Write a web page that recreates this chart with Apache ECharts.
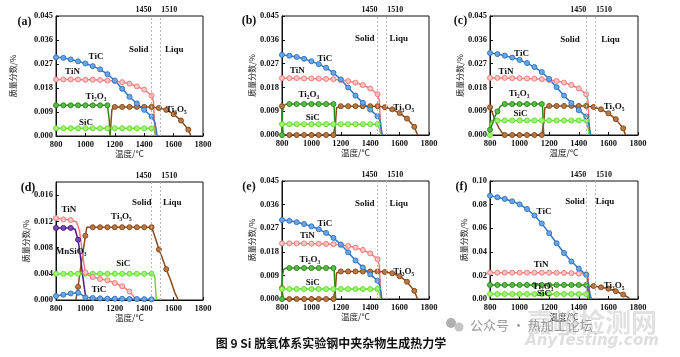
<!DOCTYPE html>
<html><head><meta charset="utf-8">
<script src="https://cdn.jsdelivr.net/npm/echarts@6/dist/echarts.min.js"></script>
<style>html,body{margin:0;padding:0;background:#fff}#c{width:680px;height:357px}</style>
</head><body><div id="c"></div>
<script>
// ---------- data ----------
const xTicks = [800, 1000, 1200, 1400, 1600, 1800];
const solidT = 1450, liquT = 1510;

// (a)
const a_TiC = [[800,0.0295],[850,0.0293],[900,0.0287],[950,0.028],[1000,0.0272],[1050,0.0262],[1100,0.025],[1150,0.0232],[1200,0.0208],[1250,0.0177],[1300,0.0147],[1350,0.0122],[1400,0.0098],[1450,0.0073],[1470,0.0055],[1480,0.003],[1488,0]];
const a_TiN = [[800,0.0212],[850,0.0212],[900,0.0212],[950,0.0212],[1000,0.0211],[1050,0.0211],[1100,0.021],[1150,0.0208],[1200,0.0206],[1250,0.0202],[1300,0.0196],[1350,0.0186],[1400,0.0174],[1450,0.0152],[1463,0.013],[1470,0.005],[1477,0]];
const a_Ti2O3 = [[800,0.0115],[850,0.0115],[900,0.0115],[950,0.0115],[1000,0.0115],[1050,0.0115],[1100,0.0115],[1150,0.0115],[1157,0.0112],[1162,0.006],[1167,0.001],[1170,0]];
const a_SiC = [[800,0.0029],[850,0.0029],[900,0.0029],[950,0.0029],[1000,0.0029],[1050,0.0029],[1100,0.0029],[1150,0.0029],[1200,0.0029],[1250,0.0029],[1300,0.0029],[1350,0.0029],[1400,0.0029],[1450,0.0029],[1468,0.0028],[1473,0.001],[1478,0]];
const a_Ti3O5 = [[1168,0],[1174,0.005],[1180,0.0098],[1188,0.0108],[1200,0.0109],[1250,0.0109],[1300,0.0109],[1350,0.0109],[1400,0.0109],[1450,0.0109],[1500,0.0105],[1550,0.0098],[1600,0.0082],[1650,0.0058],[1700,0.0024],[1718,0]];

// (b)
const b_TiC = [[800,0.0303],[850,0.03],[900,0.0295],[950,0.0288],[1000,0.0279],[1050,0.0268],[1100,0.0254],[1150,0.0235],[1200,0.021],[1250,0.018],[1300,0.0149],[1350,0.0122],[1400,0.0096],[1450,0.0071],[1468,0.0052],[1476,0.002],[1482,0]];
const b_TiN = [[800,0.0215],[850,0.0215],[900,0.0215],[950,0.0214],[1000,0.0214],[1050,0.0213],[1100,0.0212],[1150,0.0211],[1200,0.0208],[1250,0.0204],[1300,0.0198],[1350,0.0189],[1400,0.0176],[1450,0.0154],[1462,0.013],[1469,0.005],[1476,0]];
const b_Ti2O3 = [[800,0],[803,0.0085],[810,0.011],[825,0.0116],[850,0.0117],[900,0.0117],[950,0.0117],[1000,0.0117],[1050,0.0117],[1100,0.0117],[1150,0.0117],[1155,0.0105],[1159,0.005],[1163,0]];
const b_SiC = [[800,0.0041],[850,0.0041],[900,0.0041],[950,0.0041],[1000,0.0041],[1050,0.0041],[1100,0.0041],[1150,0.0041],[1200,0.0041],[1250,0.0041],[1300,0.0041],[1350,0.0041],[1400,0.0041],[1450,0.0041],[1460,0.0041],[1466,0.002],[1471,0]];
const b_Ti3O5 = [[800,0.0109],[803,0.004],[808,0],[850,0],[900,0],[950,0],[1000,0],[1050,0],[1100,0],[1150,0],[1160,0],[1165,0.005],[1171,0.0102],[1180,0.0109],[1200,0.0109],[1250,0.0109],[1300,0.0109],[1350,0.0109],[1400,0.0109],[1450,0.0109],[1500,0.0105],[1550,0.0097],[1600,0.0083],[1650,0.0062],[1700,0.0031],[1722,0]];

// (c)
const c_TiC = [[800,0.031],[850,0.0306],[900,0.03],[950,0.0293],[1000,0.0284],[1050,0.0272],[1100,0.0257],[1150,0.0238],[1200,0.0212],[1250,0.0181],[1300,0.0149],[1350,0.0121],[1400,0.0094],[1450,0.007],[1466,0.005],[1474,0.002],[1480,0]];
const c_TiN = [[800,0.0216],[850,0.0216],[900,0.0216],[950,0.0215],[1000,0.0215],[1050,0.0214],[1100,0.0213],[1150,0.0211],[1200,0.0208],[1250,0.0204],[1300,0.0198],[1350,0.0189],[1400,0.0176],[1450,0.0154],[1462,0.013],[1469,0.005],[1476,0]];
const c_Ti2O3 = [[800,0.002],[815,0.004],[830,0.0066],[850,0.0089],[870,0.0108],[890,0.0116],[900,0.0117],[950,0.0117],[1000,0.0117],[1050,0.0117],[1100,0.0117],[1150,0.0117],[1155,0.0105],[1159,0.005],[1163,0]];
const c_SiC = [[800,0],[804,0.004],[810,0.0055],[850,0.0055],[900,0.0055],[950,0.0055],[1000,0.0055],[1050,0.0055],[1100,0.0055],[1150,0.0055],[1200,0.0055],[1250,0.0055],[1300,0.0055],[1350,0.0055],[1400,0.0055],[1450,0.0055],[1460,0.0055],[1466,0.002],[1471,0]];
const c_Ti3O5 = [[800,0.0105],[820,0.0078],[840,0.005],[860,0.0027],[880,0.001],[900,0],[950,0],[1000,0],[1050,0],[1100,0],[1150,0],[1158,0],[1164,0.005],[1170,0.0102],[1180,0.0109],[1200,0.011],[1250,0.011],[1300,0.011],[1350,0.011],[1400,0.011],[1450,0.011],[1500,0.0106],[1550,0.0097],[1600,0.0082],[1650,0.006],[1700,0.0025],[1715,0]];

// (d)
const d_TiN = [[800,0.0125],[850,0.0123],[900,0.0122],[940,0.0119],[960,0.0105],[975,0.008],[990,0.0055],[1000,0.0042],[1020,0.0038],[1050,0.0035],[1100,0.0032],[1150,0.003],[1200,0.0026],[1250,0.0021],[1300,0.0013],[1330,0.0005],[1345,0]];
const d_MnSiO3 = [[800,0.011],[850,0.011],[900,0.011],[930,0.0108],[950,0.0092],[965,0.0068],[980,0.004],[995,0.0015],[1005,0]];
const d_Ti3O5 = [[935,0],[950,0.002],[965,0.0045],[985,0.0075],[1000,0.0098],[1010,0.0111],[1050,0.0111],[1100,0.0111],[1150,0.0111],[1200,0.0111],[1250,0.0111],[1300,0.0111],[1350,0.0111],[1400,0.0111],[1450,0.0111],[1465,0.0102],[1485,0.0088],[1500,0.0077],[1520,0.0066],[1550,0.0047],[1580,0.003],[1610,0.001],[1632,0]];
const d_SiC = [[800,0.004],[850,0.004],[900,0.004],[950,0.004],[1000,0.004],[1050,0.004],[1100,0.004],[1150,0.004],[1200,0.004],[1250,0.004],[1300,0.004],[1350,0.004],[1400,0.004],[1450,0.004],[1462,0.0039],[1472,0.0036],[1478,0.0015],[1482,0]];
const d_TiC = [[800,0.0006],[850,0.0008],[900,0.001],[950,0.0011],[975,0.0008],[1000,0.0004],[1050,0.0003],[1100,0.00025],[1150,0.0002],[1200,0.0002],[1250,0.00018],[1300,0.00016],[1350,0.00015],[1400,0.00013],[1450,0.0001],[1470,0]];

// (e)
const e_TiC = [[800,0.0301],[850,0.0298],[900,0.0293],[950,0.0286],[1000,0.0277],[1050,0.0266],[1100,0.0252],[1150,0.0233],[1200,0.0208],[1250,0.0178],[1300,0.0147],[1350,0.012],[1400,0.0094],[1450,0.007],[1466,0.005],[1474,0.002],[1480,0]];
const e_TiN = [[800,0.0212],[850,0.0212],[900,0.0212],[950,0.0212],[1000,0.0211],[1050,0.0211],[1100,0.021],[1150,0.0209],[1200,0.0206],[1250,0.0202],[1300,0.0196],[1350,0.0187],[1400,0.0174],[1450,0.0152],[1462,0.013],[1469,0.005],[1476,0]];
const e_Ti2O3 = [[800,0],[803,0.0085],[810,0.0112],[825,0.0117],[850,0.0118],[900,0.0118],[950,0.0118],[1000,0.0118],[1050,0.0118],[1100,0.0118],[1150,0.0118],[1155,0.0108],[1160,0.005],[1165,0]];
const e_SiC = [[800,0.0038],[850,0.0038],[900,0.0038],[950,0.0038],[1000,0.0038],[1050,0.0038],[1100,0.0038],[1150,0.0038],[1200,0.0038],[1250,0.0038],[1300,0.0038],[1350,0.0038],[1400,0.0038],[1450,0.0038],[1460,0.0038],[1466,0.0018],[1471,0]];
const e_Ti3O5 = [[800,0.0042],[805,0.0015],[810,0],[850,0],[900,0],[950,0],[1000,0],[1050,0],[1100,0],[1150,0],[1160,0],[1165,0.005],[1171,0.0099],[1180,0.0105],[1200,0.0105],[1250,0.0105],[1300,0.0105],[1350,0.0105],[1400,0.0105],[1450,0.0105],[1500,0.0103],[1550,0.0098],[1600,0.0087],[1650,0.0066],[1700,0.0031],[1722,0]];

// (f)
const f_TiC = [[800,0.0875],[850,0.0862],[900,0.0848],[950,0.0828],[1000,0.0802],[1050,0.0763],[1100,0.0708],[1150,0.064],[1200,0.0558],[1250,0.0472],[1300,0.039],[1350,0.0318],[1400,0.0258],[1450,0.0205],[1465,0.012],[1475,0.004],[1485,0]];
const f_TiN = [[800,0.0223],[850,0.0223],[900,0.0223],[950,0.0223],[1000,0.0223],[1050,0.0223],[1100,0.0223],[1150,0.0223],[1200,0.0223],[1250,0.0222],[1300,0.0221],[1350,0.0219],[1400,0.0216],[1450,0.021],[1462,0.019],[1470,0.008],[1480,0.001],[1488,0]];
const f_Ti2O3 = [[800,0.0119],[850,0.0119],[900,0.0119],[950,0.0119],[1000,0.0119],[1050,0.0119],[1100,0.0119],[1150,0.0119],[1200,0.0119],[1250,0.0119],[1300,0.0119],[1350,0.0119],[1400,0.0119],[1450,0.0119],[1462,0.0117],[1470,0.004],[1476,0]];
const f_SiC = [[800,0.0042],[850,0.0042],[900,0.0042],[950,0.0042],[1000,0.0042],[1050,0.0042],[1100,0.0042],[1150,0.0042],[1200,0.0042],[1250,0.0042],[1300,0.0042],[1350,0.0042],[1400,0.0042],[1450,0.0042],[1462,0.0041],[1468,0.0015],[1474,0]];
const f_Ti3O5 = [[1462,0],[1468,0.009],[1476,0.0109],[1500,0.011],[1550,0.0099],[1600,0.0087],[1650,0.0066],[1700,0.0038],[1730,0.0016],[1748,0]];

// ---------- styling / layout ----------
const SERIF = '"Liberation Serif","Times New Roman",serif';
const CJK = '"Noto Sans CJK SC",sans-serif';
const COLORS = {
  TiC: ['#2f76c4', '#6ea6e2'],
  TiN: ['#f07b7b', '#fcc4c4'],
  Ti2O3: ['#2c8a1c', '#5dbb48'],
  SiC: ['#62e02c', '#a3f57a'],
  Ti3O5: ['#8a4a1c', '#b87a45'],
  MnSiO3: ['#4b1b82', '#7b4cb5']
};

const panels = [
  { tag: '(a)', tagPos: [24.5, 21.5], grid: {left: 56, top: 16, width: 147, height: 120}, ymax: 0.045, yint: 0.009, dec: 3, yGap: 39, xGap: 7,
    series: {Ti3O5: a_Ti3O5, SiC: a_SiC, Ti2O3: a_Ti2O3, TiN: a_TiN, TiC: a_TiC},
    notes: [['TiC',1072,0.0296],['TiN',912,0.024],['Ti₂O₃',1072,0.0146],['SiC',1004,0.0051],['Ti₃O₅',1618,0.0098],['Solid',1363,0.0323],['Liqu',1604,0.0323]] },
  { tag: '(b)', tagPos: [249, 21], grid: {left: 282, top: 16, width: 147, height: 119}, ymax: 0.045, yint: 0.009, dec: 3, yGap: 23, xGap: 10,
    series: {Ti3O5: b_Ti3O5, SiC: b_SiC, Ti2O3: b_Ti2O3, TiN: b_TiN, TiC: b_TiC},
    notes: [['TiC',1092,0.029],['TiN',905,0.0245],['Ti₂O₃',983,0.0151],['SiC',1010,0.0064],['Ti₃O₅',1628,0.0102],['Solid',1363,0.0366],['Liqu',1594,0.0366]] },
  { tag: '(c)', tagPos: [460.5, 21], grid: {left: 490, top: 16, width: 148, height: 119}, ymax: 0.045, yint: 0.009, dec: 3, yGap: 22, xGap: 12,
    series: {Ti3O5: c_Ti3O5, SiC: c_SiC, Ti2O3: c_Ti2O3, TiN: c_TiN, TiC: c_TiC},
    notes: [['TiC',1013,0.0307],['TiN',908,0.0241],['Ti₂O₃',996,0.0155],['SiC',1006,0.0081],['Ti₃O₅',1638,0.0107],['Solid',1341,0.0362],['Liqu',1614,0.0362]] },
  { tag: '(d)', tagPos: [28, 187.5], grid: {left: 56, top: 182, width: 147, height: 118}, ymax: 0.018, yint: 0.004, dec: 3, yGap: 16, xGap: 10,
    series: {Ti3O5: d_Ti3O5, SiC: d_SiC, TiC: d_TiC, TiN: d_TiN, MnSiO3: d_MnSiO3},
    notes: [['TiN',888,0.0138],['MnSiO₃',902,0.0073],['Ti₃O₅',1245,0.0127],['SiC',1258,0.0055],['TiC',1092,0.0015],['Solid',1384,0.0148],['Liqu',1591,0.0148]] },
  { tag: '(e)', tagPos: [249, 187], grid: {left: 282, top: 181, width: 147, height: 118}, ymax: 0.045, yint: 0.009, dec: 3, yGap: 24, xGap: 10,
    series: {Ti3O5: e_Ti3O5, SiC: e_SiC, Ti2O3: e_Ti2O3, TiN: e_TiN, TiC: e_TiC},
    notes: [['TiC',1092,0.0288],['TiN',973,0.024],['Ti₂O₃',990,0.0149],['SiC',1010,0.0064],['Ti₃O₅',1628,0.0105],['Solid',1363,0.0364],['Liqu',1594,0.0364]] },
  { tag: '(f)', tagPos: [461.5, 187], grid: {left: 490, top: 181, width: 148, height: 118}, ymax: 0.10, yint: 0.02, dec: 2, yGap: 18, xGap: 10,
    series: {Ti3O5: f_Ti3O5, SiC: f_SiC, Ti2O3: f_Ti2O3, TiN: f_TiN, TiC: f_TiC},
    notes: [['TiC',1165,0.0739],['TiN',1145,0.029],['Ti₂O₃',1158,0.0103],['SiC',1165,0.0048],['Ti₃O₅',1638,0.0116],['Solid',1374,0.0822],['Liqu',1577,0.0822]] }
];

const grids = [], xAxes = [], yAxes = [], series = [];
panels.forEach((p, i) => {
  grids.push(Object.assign({show: true, borderColor: '#111', borderWidth: 1, backgroundColor: 'transparent'}, p.grid));
  xAxes.push({
    type: 'value', gridIndex: i, min: xTicks[0], max: xTicks[xTicks.length - 1], interval: 200,
    name: '温度/°C', nameLocation: 'middle', nameGap: p.xGap,
    nameTextStyle: {fontFamily: CJK, fontSize: 8.5, color: '#222'},
    axisLine: {lineStyle: {color: '#111', width: 1}},
    axisTick: {inside: true, length: 3, lineStyle: {color: '#111'}},
    axisLabel: {fontFamily: SERIF, fontWeight: 'bold', fontSize: 8.5, color: '#111', margin: 4, formatter: v => String(v)},
    splitLine: {show: false}
  });
  yAxes.push({
    type: 'value', gridIndex: i, min: 0, max: p.ymax, interval: p.yint,
    name: '质量分数/%', nameLocation: 'middle', nameGap: p.yGap, nameRotate: 90,
    nameTextStyle: {fontFamily: CJK, fontSize: 8, color: '#222'},
    axisLine: {lineStyle: {color: '#111', width: 1}},
    axisTick: {inside: true, length: 3, lineStyle: {color: '#111'}},
    axisLabel: {fontFamily: SERIF, fontWeight: 'bold', fontSize: 8.5, color: '#111', margin: 3,
      showMaxLabel: Math.abs(p.ymax / p.yint - Math.round(p.ymax / p.yint)) < 1e-6,
      formatter: v => v.toFixed(p.dec)},
    splitLine: {show: false}
  });
  let first = true;
  Object.keys(p.series).forEach(key => {
    const [lc, fc] = COLORS[key];
    const s = {
      type: 'line', name: key, xAxisIndex: i, yAxisIndex: i,
      data: p.series[key].map(d => ({value: d, symbol: d[0] % 50 === 0 ? 'circle' : 'none'})),
      showAllSymbol: true, symbolSize: 5, smooth: false,
      lineStyle: {color: lc, width: 1.5},
      itemStyle: {color: fc, borderColor: lc, borderWidth: 1},
      emphasis: {disabled: true}, animation: false, silent: true
    };
    if (first) {
      s.markLine = {
        silent: true, symbol: ['none', 'none'], label: {show: false}, animation: false,
        lineStyle: {color: '#b8b8b8', type: [2, 2], width: 1},
        data: [{xAxis: solidT}, {xAxis: liquT}]
      };
      first = false;
    }
    series.push(s);
  });
});

const chart = echarts.init(document.getElementById('c'), null, {renderer: 'canvas'});
chart.setOption({animation: false, grid: grids, xAxis: xAxes, yAxis: yAxes, series: series});

// annotations placed through the axes' own scales
const g = [];
const txt = (x, y, text, font, fill, align, valign) => ({
  type: 'text', x: x, y: y, silent: true, z: 100,
  style: {text: text, font: font, fill: fill, align: align, textAlign: align, verticalAlign: valign, textVerticalAlign: valign}
});
panels.forEach((p, i) => {
  p.notes.forEach(n => {
    const pt = chart.convertToPixel({gridIndex: i}, [n[1], n[2]]);
    g.push(txt(pt[0], pt[1], n[0], 'bold 9px ' + SERIF, '#111', 'center', 'middle'));
  });
  const p1 = chart.convertToPixel({gridIndex: i}, [solidT, p.ymax]);
  const p2 = chart.convertToPixel({gridIndex: i}, [liquT, p.ymax]);
  g.push(txt(p1[0], p1[1] - 2, String(solidT), 'bold 8px ' + SERIF, '#111', 'right', 'bottom'));
  g.push(txt(p2[0] + 1, p2[1] - 2, String(liquT), 'bold 8px ' + SERIF, '#111', 'left', 'bottom'));
  g.push(txt(p.tagPos[0], p.tagPos[1], p.tag, 'bold 12px ' + SERIF, '#111', 'center', 'middle'));
});
// caption
g.push(txt(331, 343, '图 9 Si 脱氧体系实验钢中夹杂物生成热力学', 'bold 12px ' + CJK, '#111', 'center', 'middle'));
// watermark
g.push(txt(592, 322, '嘉峪检测网', 'bold 26px ' + CJK, 'rgba(200,200,200,0.55)', 'center', 'middle'));
g.push(txt(592, 341, 'AnyTesting.com', 'italic bold 15px ' + '"DejaVu Sans",sans-serif', 'rgba(200,200,200,0.6)', 'center', 'middle'));
g.push({type: 'circle', shape: {cx: 451, cy: 323, r: 5}, style: {fill: '#b0b0b0'}, silent: true, z: 100});
g.push({type: 'circle', shape: {cx: 459, cy: 327, r: 4.5}, style: {fill: '#c4c4c4'}, silent: true, z: 100});
g.push(txt(470, 325, '公众号 · 热加工论坛', '13px ' + CJK, '#9a9a9a', 'left', 'middle'));
chart.setOption({graphic: g});
</script>
</body></html>
